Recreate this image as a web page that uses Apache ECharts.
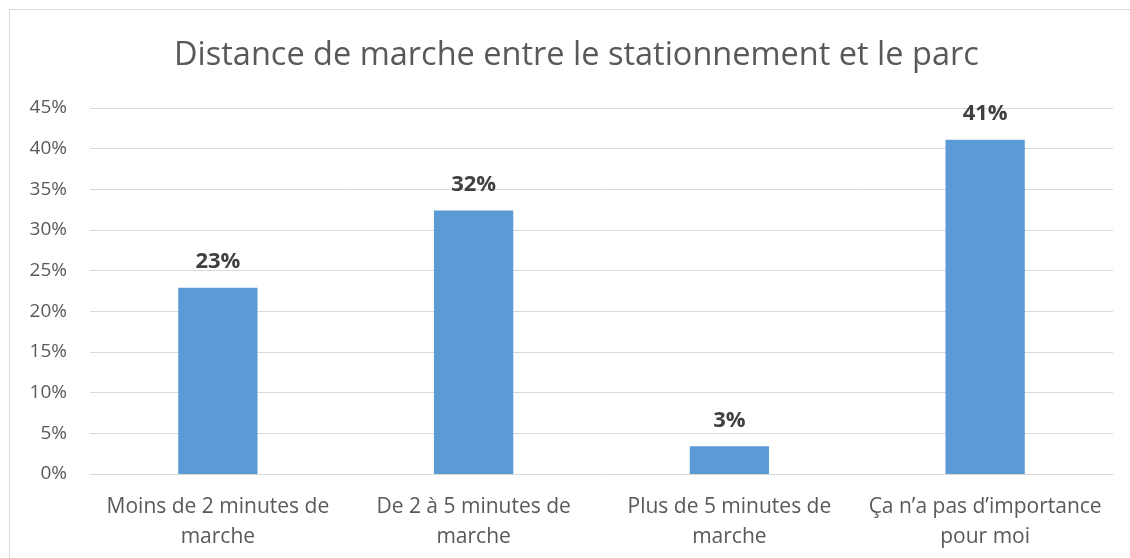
<!DOCTYPE html>
<html>
<head>
<meta charset="utf-8">
<script src="https://cdn.jsdelivr.net/npm/echarts@6/dist/echarts.min.js"></script>
<style>
  html, body { margin: 0; padding: 0; background: #fff; }
  #chart { width: 1130px; height: 558px; }
</style>
</head>
<body>
<div id="chart"></div>
<script>
// données
const categories = [
  'Moins de 2 minutes de\nmarche',
  'De 2 à 5 minutes de\nmarche',
  'Plus de 5 minutes de\nmarche',
  'Ça n’a pas d’importance\npour moi'
]
const values = [22.9, 32.4, 3.4, 41.1]
const yTicks = [0, 5, 10, 15, 20, 25, 30, 35, 40, 45]

const font = '"Open Sans", sans-serif'
const chart = echarts.init(document.getElementById('chart'))

chart.setOption({
  animation: false,
  textStyle: { fontFamily: font },
  title: {
    text: 'Distance de marche entre le stationnement et le parc',
    left: 174,
    top: 39,
    padding: 0,
    textStyle: { fontFamily: font, fontSize: 32.5, fontWeight: 'normal', color: '#595959' }
  },
  graphic: [{
    type: 'rect',
    shape: { x: 9.5, y: 9.5, width: 1130, height: 560 },
    style: { fill: 'none', stroke: '#d9d9d9', lineWidth: 1 },
    silent: true
  }],
  grid: { left: 90, right: 17, top: 108, bottom: 84, containLabel: false },
  xAxis: {
    type: 'category',
    data: categories,
    axisLine: { lineStyle: { color: '#d9d9d9', width: 1 } },
    axisTick: { show: false },
    axisLabel: { color: '#595959', fontSize: 21, lineHeight: 30, margin: 18, interval: 0 }
  },
  yAxis: {
    type: 'value',
    min: yTicks[0],
    max: yTicks[yTicks.length - 1],
    interval: 5,
    axisLine: { show: false },
    axisTick: { show: false },
    splitLine: { lineStyle: { color: '#d9d9d9', width: 1 } },
    axisLabel: { color: '#595959', fontSize: 19, margin: 23, formatter: v => v + '%' }
  },
  series: [{
    type: 'bar',
    data: values,
    barWidth: '31%',
    itemStyle: { color: '#5b9bd5' },
    label: {
      show: true,
      position: 'top',
      distance: 15,
      color: '#404040',
      fontSize: 22,
      fontWeight: 'bold',
      fontFamily: font,
      formatter: p => Math.round(p.value) + '%'
    }
  }]
})
</script>
</body>
</html>
